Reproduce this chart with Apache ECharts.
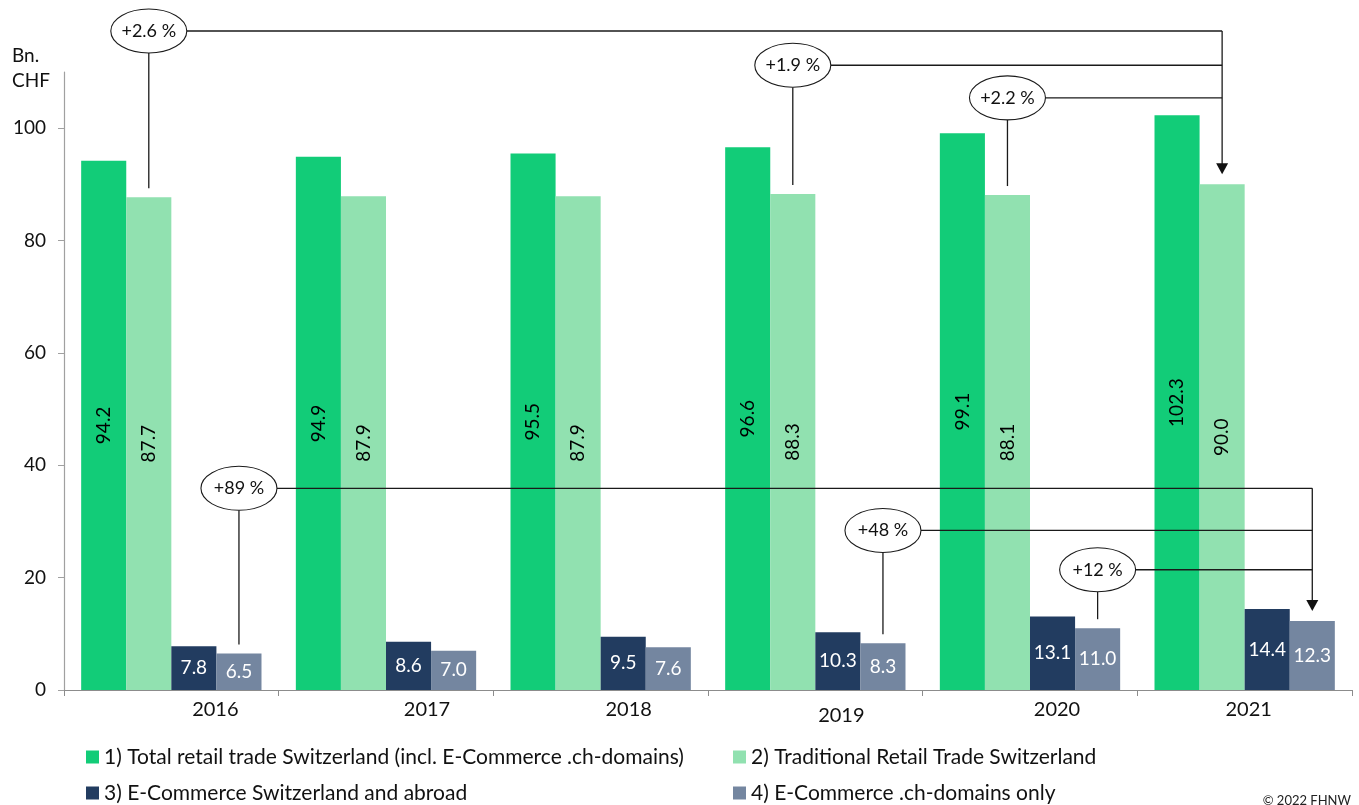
<!DOCTYPE html>
<html>
<head>
<meta charset="utf-8">
<title>Retail trade and e-commerce in Switzerland</title>
<script src="https://cdn.jsdelivr.net/npm/echarts@6/dist/echarts.min.js"></script>
<style>
  html, body { margin: 0; padding: 0; background: #fff; }
  #chart { width: 1359px; height: 805px; }
</style>
</head>
<body>
<div id="chart"></div>
<script>
// Years shown on the category axis
const years = ['2016', '2017', '2018', '2019', '2020', '2021'];

// Series names (legend)
const seriesNames = [
  '1) Total retail trade Switzerland (incl. E-Commerce .ch-domains)',
  '2) Traditional Retail Trade Switzerland',
  '3) E-Commerce Switzerland and abroad',
  '4) E-Commerce .ch-domains only'
];

// Values in billion CHF
const totalRetail = [94.2, 94.9, 95.5, 96.6, 99.1, 102.3];
const traditionalRetail = [87.7, 87.9, 87.9, 88.3, 88.1, 90.0];
const eCommerceAll = [7.8, 8.6, 9.5, 10.3, 13.1, 14.4];
const eCommerceCh = [6.5, 7.0, 7.6, 8.3, 11.0, 12.3];

// Y axis ticks
const yTicks = [0, 20, 40, 60, 80, 100];

// Growth callouts up to 2021: text, series index, start year index, callout level (Bn. CHF)
const growthTraditional = [
  { text: '+2.6 %', series: 1, from: 0, level: 117.3 },
  { text: '+1.9 %', series: 1, from: 3, level: 111.2 },
  { text: '+2.2 %', series: 1, from: 4, level: 105.4 }
];
const growthEcomCh = [
  { text: '+89 %', series: 3, from: 0, level: 35.9 },
  { text: '+48 %', series: 3, from: 3, level: 28.4 },
  { text: '+12 %', series: 3, from: 4, level: 21.4 }
];

const FONT = 'Lato, "Open Sans", sans-serif';
const colors = ['#12cc78', '#91e1b0', '#223c60', '#7486a0'];
// Horizontal / vertical nudges of the year labels (px)
const yearShift = [44, 41, 28, 26, 27, 4];
const yearLift = [-3, 0, -1, 3, 0, 0];

const chart = echarts.init(document.getElementById('chart'), null, { renderer: 'canvas' });

const valueSets = [totalRetail, traditionalRetail, eCommerceAll, eCommerceCh];

const rich = {};
years.forEach((y, i) => {
  rich['p' + i] = {
    fontFamily: FONT, fontSize: 20, color: '#111',
    padding: [Math.max(0, yearLift[i]) * 2, 0, Math.max(0, -yearLift[i]) * 2, yearShift[i] * 2]
  };
});

const series = valueSets.map((vals, i) => {
  const tall = i < 2;
  return {
    name: seriesNames[i],
    type: 'bar',
    data: vals,
    barGap: '0%',
    barCategoryGap: '16%',
    itemStyle: { color: colors[i] },
    emphasis: { disabled: true },
    label: {
      show: true,
      position: 'inside',
      rotate: tall ? 90 : 0,
      color: tall ? '#000' : '#fff',
      fontFamily: FONT,
      fontSize: 19,
      formatter: p => p.value.toFixed(1)
    }
  };
});

const legendBase = {
  orient: 'vertical', top: 746, height: 80, padding: 0,
  itemWidth: 13, itemHeight: 13, itemGap: 14,
  icon: 'rect',
  textStyle: { fontFamily: FONT, fontSize: 21, color: '#111', lineHeight: 22 },
  selectedMode: false
};

chart.setOption({
  animation: false,
  grid: { left: 64, right: 7, top: 72, bottom: 115, containLabel: false },
  legend: [
    Object.assign({}, legendBase, { data: [seriesNames[0], seriesNames[2]], left: 86 }),
    Object.assign({}, legendBase, { data: [seriesNames[1], seriesNames[3]], left: 733 })
  ],
  xAxis: {
    type: 'category',
    data: years,
    boundaryGap: true,
    axisLine: { lineStyle: { color: '#8c8c8c', width: 1.2 } },
    axisTick: { show: true, length: 6, lineStyle: { color: '#8c8c8c' } },
    axisLabel: {
      margin: 10,
      formatter: (v, i) => '{p' + i + '|' + v + '}',
      rich: rich
    }
  },
  yAxis: {
    type: 'value',
    min: 0, max: 110, interval: 10,
    splitLine: { show: false },
    axisLine: { show: true, lineStyle: { color: '#a0a0a0', width: 1.2 } },
    axisTick: { show: true, length: 6, customValues: yTicks, lineStyle: { color: '#a0a0a0' } },
    axisLabel: {
      customValues: yTicks,
      margin: 18,
      fontFamily: FONT, fontSize: 19, color: '#111'
    }
  },
  series: series
});

// Callouts: ellipses, leader lines and arrows placed through the axis scales
function buildGraphics() {
  const x0 = chart.convertToPixel({ xAxisIndex: 0 }, 0);
  const x1 = chart.convertToPixel({ xAxisIndex: 0 }, 1);
  const band = x1 - x0;
  const barW = band * (1 - 0.16) / 4;
  const barX = (s, c) => chart.convertToPixel({ xAxisIndex: 0 }, c) + (s - 1.5) * barW;
  const yPx = v => chart.convertToPixel({ yAxisIndex: 0 }, v);

  const els = [
    {
      type: 'text', left: 12, top: 43,
      style: { text: 'Bn.\nCHF', font: '19px ' + FONT, fill: '#111', lineHeight: 25 }
    },
    {
      type: 'text', right: 8, top: 794,
      style: { text: '© 2022 FHNW', font: '13px ' + FONT, fill: '#222' }
    }
  ];
  const stroke = { stroke: '#1a1a1a', lineWidth: 1.3 };
  const rx = 38, ry = 22;

  [growthTraditional, growthEcomCh].forEach(group => {
    const s = group[0].series;
    const last = years.length - 1;
    const tx = barX(s, last);
    const tipY = yPx(valueSets[s][last]) - 10;
    let topY = Infinity;

    group.forEach(g => {
      const cx = barX(s, g.from);
      const cy = yPx(g.level);
      topY = Math.min(topY, cy);
      const barTop = yPx(valueSets[s][g.from]);
      els.push({ type: 'line', shape: { x1: cx, y1: cy + ry, x2: cx, y2: barTop - 9 }, style: stroke, z: 100 });
      els.push({ type: 'line', shape: { x1: cx + rx, y1: cy, x2: tx, y2: cy }, style: stroke, z: 100 });
      els.push({
        type: 'ellipse', shape: { cx: cx, cy: cy, rx: rx, ry: ry },
        style: { fill: '#fff', stroke: '#1a1a1a', lineWidth: 1.1 }, z: 101
      });
      els.push({
        type: 'text', x: cx, y: cy, z: 102,
        style: { text: g.text, font: '18px ' + FONT, fill: '#111', align: 'center', verticalAlign: 'middle' }
      });
    });

    // arrow down into the 2021 bar
    els.push({ type: 'line', shape: { x1: tx, y1: topY, x2: tx, y2: tipY - 10 }, style: stroke, z: 100 });
    els.push({
      type: 'polygon', z: 100,
      shape: { points: [[tx - 6, tipY - 11], [tx + 6, tipY - 11], [tx, tipY]] },
      style: { fill: '#111' }
    });
  });
  return els;
}

chart.setOption({ graphic: buildGraphics() });
</script>
</body>
</html>
